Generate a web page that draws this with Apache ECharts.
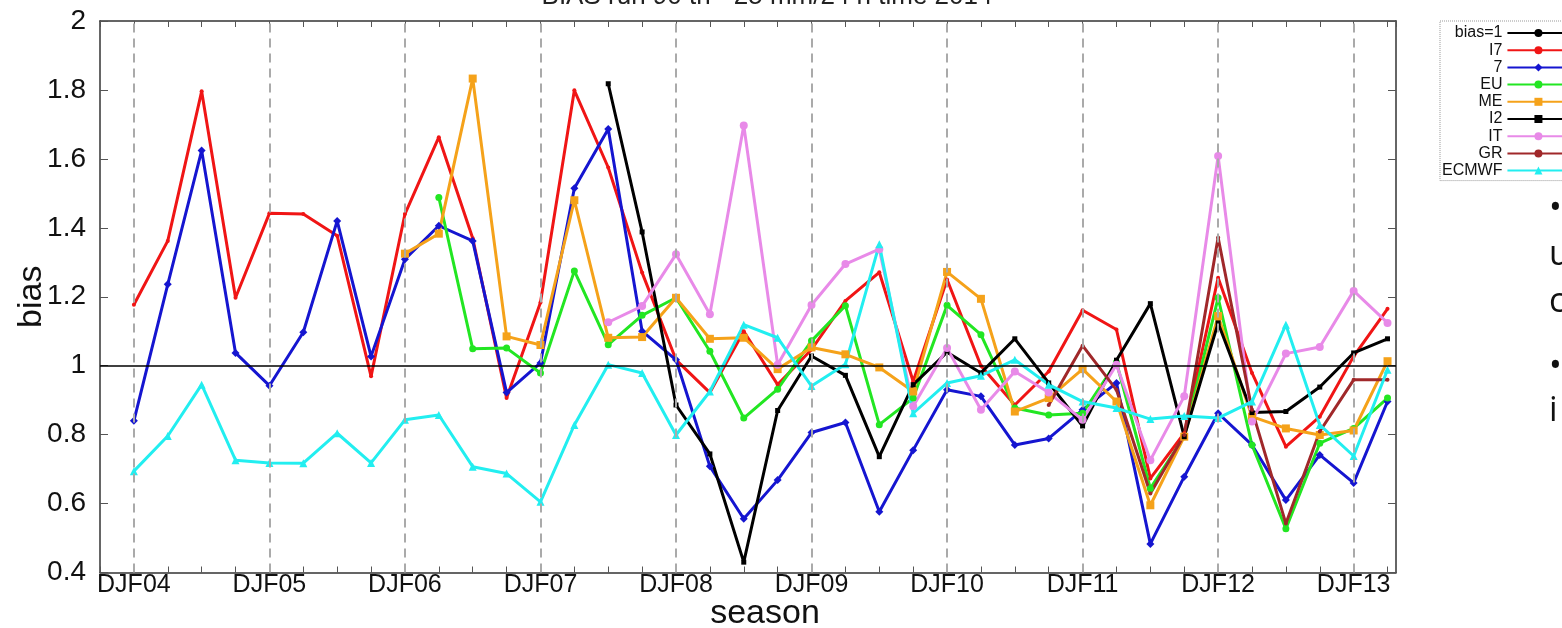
<!DOCTYPE html>
<html>
<head>
<meta charset="utf-8">
<script src="https://cdn.jsdelivr.net/npm/echarts@6/dist/echarts.min.js"></script>
<style>
html,body{margin:0;padding:0;background:#fff;}
#chart{width:1562px;height:628px;}
</style>
</head>
<body>
<div id="chart"></div>
<script>
// ---- data (season index 0 = DJF04 ... 37 = MAM13) ----
const seasonLabels = ['DJF04','DJF05','DJF06','DJF07','DJF08','DJF09','DJF10','DJF11','DJF12','DJF13'];
const biasRef = 1;
const I7 = [1.177,1.362,1.796,1.197,1.442,1.44,1.377,0.969,1.44,1.663,1.37,0.906,1.183,1.799,1.575,1.27,1.017,0.922,1.10,0.945,1.047,1.188,1.271,0.954,1.25,1.0,0.886,0.983,1.161,1.105,0.673,0.804,1.255,0.979,0.765,0.852,1.027,1.165];
const S7 = [0.840,1.236,1.624,1.037,0.942,1.097,1.420,1.027,1.309,1.406,1.362,0.922,1.008,1.515,1.687,1.100,1.017,0.708,0.556,0.668,0.806,0.835,0.576,0.755,0.930,0.911,0.770,0.789,0.872,0.950,0.483,0.678,0.862,0.770,0.610,0.741,0.660,0.896];
const EU = [null,null,null,null,null,null,null,null,null,1.488,1.049,1.051,0.979,1.275,1.061,1.146,1.197,1.042,0.848,0.932,1.072,1.174,0.829,0.906,1.175,1.090,0.877,0.857,0.862,1.01,0.644,0.794,1.197,0.770,0.527,0.775,0.818,0.906];
const ME = [null,null,null,null,null,null,null,null,1.325,1.383,1.833,1.085,1.06,1.48,1.081,1.083,1.197,1.078,1.081,0.990,1.053,1.033,0.995,0.925,1.272,1.194,0.867,0.906,0.990,0.896,0.595,0.794,1.144,0.852,0.818,0.799,0.812,1.013];
const I2 = [null,null,null,null,null,null,null,null,null,null,null,null,null,null,1.818,1.388,0.886,0.744,0.430,0.870,1.028,0.972,0.736,0.945,1.039,0.979,1.078,0.950,0.825,1.016,1.180,0.794,1.124,0.864,0.867,0.938,1.037,1.078];
const IT = [null,null,null,null,null,null,null,null,null,null,null,null,null,null,1.126,1.173,1.323,1.149,1.697,1.003,1.176,1.295,1.338,0.882,1.051,0.872,0.983,0.922,0.843,1.003,0.726,0.911,1.608,0.838,1.035,1.054,1.217,1.124];
const GR = [null,null,null,null,null,null,null,null,null,null,null,null,null,null,null,null,null,null,null,null,null,null,null,null,null,null,null,0.886,1.058,0.93,0.629,0.799,1.372,0.872,0.542,0.809,0.959,0.959];
const ECMWF = [0.694,0.796,0.945,0.726,0.718,0.717,0.804,0.718,0.843,0.857,0.707,0.687,0.605,0.828,1.003,0.979,0.799,0.925,1.119,1.081,0.941,1.004,1.352,0.862,0.950,0.971,1.017,0.945,0.896,0.877,0.845,0.854,0.848,0.896,1.119,0.828,0.738,0.988];

const seriesDefs = [
  {name:'I7', data:I7, color:'#f01515', symbol:'circle', size:4},
  {name:'7', data:S7, color:'#1515d0', symbol:'diamond', size:8},
  {name:'EU', data:EU, color:'#22e622', symbol:'circle', size:7},
  {name:'ME', data:ME, color:'#f5a21a', symbol:'rect', size:8},
  {name:'I2', data:I2, color:'#000000', symbol:'rect', size:5},
  {name:'IT', data:IT, color:'#e88ae8', symbol:'circle', size:8},
  {name:'GR', data:GR, color:'#a0282a', symbol:'circle', size:4},
  {name:'ECMWF', data:ECMWF, color:'#22eef0', symbol:'triangle', size:8}
];

const FONT = '"Liberation Sans Narrow","Liberation Sans",Arial,sans-serif';
const chart = echarts.init(document.getElementById('chart'), null, {renderer:'canvas'});

function pairs(arr){
  const out = [];
  arr.forEach((v,i)=>{ if(v!==null) out.push([i,v]); });
  return out;
}

const gridLines = seasonLabels.map((s,k)=>({xAxis:k*4}));

const series = [{
  name:'bias=1', type:'line', data:[], z:1, silent:true,
  symbol:'none',
  lineStyle:{color:'#000', width:1.5},
  itemStyle:{color:'#000'},
  markLine:{
    silent:true, symbol:'none', animation:false,
    label:{show:false},
    lineStyle:{color:'#aaaaaa', type:[9,6], width:2},
    data: gridLines.concat([{yAxis:biasRef, lineStyle:{color:'#000', type:'solid', width:1.5}}])
  }
}].concat(seriesDefs.map(d=>({
  name:d.name, type:'line', data:pairs(d.data), z:3,
  symbol:d.symbol, symbolSize:d.size, showSymbol:true,
  lineStyle:{color:d.color, width:3},
  itemStyle:{color:d.color},
  emphasis:{disabled:true}
})));

const xBase = {
  type:'value', min:-1, max:37.25, interval:1,
  splitLine:{show:false},
  axisLine:{show:true, onZero:false, lineStyle:{color:'#333', width:1.5}},
  axisTick:{show:true, inside:true, length:6, lineStyle:{color:'#555'}}
};
const yBase = {
  type:'value', min:0.4, max:2, interval:0.2,
  splitLine:{show:false},
  axisLine:{show:true, onZero:false, lineStyle:{color:'#333', width:1.5}},
  axisTick:{show:true, inside:true, length:8, lineStyle:{color:'#555'}}
};

const sideText = (t, top) => ({type:'text', left:1549, top:top,
  style:{text:t, fontSize:34, fontFamily:'"Open Sans",sans-serif', fill:'#111'}});

chart.setOption({
  animation:false,
  backgroundColor:'#fff',
  title:{
    text:'BIAS run 90 th - 25 mm/24 h time 2014',
    left:762, top:-21, textAlign:'center',
    textStyle:{fontFamily:FONT, fontSize:26, fontWeight:'normal', color:'#222'}
  },
  grid:{left:100, right:166, top:21, bottom:55.5, containLabel:false, outerBoundsMode:'none'},
  legend:{
    orient:'vertical', left:1440, top:21, align:'right',
    itemWidth:62, itemHeight:10, itemGap:1.2,
    padding:[4,0,2,2],
    borderColor:'#999', borderWidth:1, borderType:'dotted',
    textStyle:{fontFamily:FONT, fontSize:16, lineHeight:14, color:'#111'},
    data:['bias=1'].concat(seriesDefs.map(d=>d.name))
  },
  xAxis:[
    Object.assign({}, xBase, {
      position:'bottom',
      name:'season', nameLocation:'middle', nameGap:24, nameMoveOverlap:false,
      nameTextStyle:{fontFamily:FONT, fontSize:34, color:'#111', padding:[0,0,0,34]},
      axisLabel:{
        show:true, margin:0, fontFamily:FONT, fontSize:25, color:'#111',
        showMaxLabel:false,
        formatter:function(v){
          if (v>=0 && Math.abs(v%4)<1e-9) { const k=v/4; return seasonLabels[k]||''; }
          return '';
        }
      }
    }),
    Object.assign({}, xBase, {position:'top', axisLabel:{show:false}})
  ],
  yAxis:[
    Object.assign({}, yBase, {
      position:'left',
      name:'bias', nameLocation:'middle', nameGap:51, nameMoveOverlap:false,
      nameTextStyle:{fontFamily:FONT, fontSize:34, color:'#111'},
      axisLabel:{show:true, margin:14, fontFamily:FONT, fontSize:28, color:'#111',
        formatter:function(v){ return String(Math.round(v*10)/10); }}
    }),
    Object.assign({}, yBase, {position:'right', axisLabel:{show:false}})
  ],
  graphic:[
    sideText('•', 192), sideText('u', 238), sideText('c', 285), sideText('•', 350), sideText('i', 394)
  ],
  series:series
});
</script>
</body>
</html>
